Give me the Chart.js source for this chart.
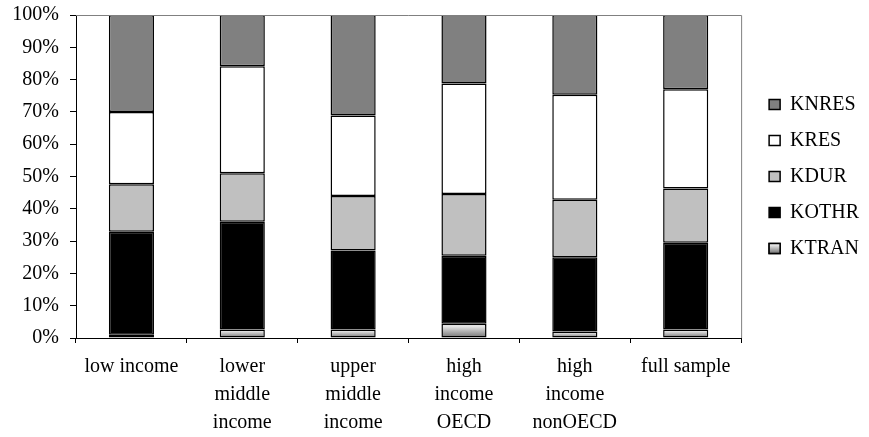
<!DOCTYPE html>
<html>
<head>
<meta charset="utf-8">
<title>Capital composition by income group</title>
<script src="https://cdn.jsdelivr.net/npm/chart.js"></script>
<style>
    html, body {
        margin: 0;
        padding: 0;
        background: #fff;
    }
    #wrap {
        width: 869px;
        height: 437px;
        position: relative;
    }
</style>
</head>
<body>
<div id="wrap"><canvas id="grafico"></canvas></div>
<script>
// categorias do eixo x
const categorias = [
    'low income',
    ['lower', 'middle', 'income'],
    ['upper', 'middle', 'income'],
    ['high', 'income', 'OECD'],
    ['high', 'income', 'nonOECD'],
    'full sample'
];

// participação (%) de cada tipo de capital
const ktran = [1.0, 2.6, 2.6, 4.4, 2.0, 2.6];
const kothr = [31.9, 33.4, 24.5, 21.1, 23.0, 26.9];
const kdur  = [14.7, 15.0, 16.9, 19.1, 17.8, 16.8];
const kres  = [22.4, 33.1, 24.9, 34.2, 32.5, 30.7];
const knres = [30.0, 15.9, 31.1, 21.2, 24.7, 23.0];

const ticksY = [0, 10, 20, 30, 40, 50, 60, 70, 80, 90, 100];

Chart.defaults.font.family = '"Liberation Serif", "Times New Roman", serif';
Chart.defaults.font.size = 20;
Chart.defaults.color = '#000';

function gradiente(ctx, topo, base) {
    const g = ctx.createLinearGradient(0, topo, 0, base);
    g.addColorStop(0, '#ffffff');
    g.addColorStop(1, '#707070');
    return g;
}

// gradiente do KTRAN (claro em cima, cinza embaixo)
function gradienteKtran(ctx) {
    const chart = ctx.chart;
    const y = chart.scales && chart.scales.y;
    if (!y || ctx.dataIndex === undefined) return '#c0c0c0';
    const topo = y.getPixelForValue(ktran[ctx.dataIndex]);
    const base = y.getPixelForValue(0);
    if (!isFinite(topo) || !isFinite(base) || base - topo < 1) return '#c0c0c0';
    return gradiente(chart.ctx, topo, base);
}

// moldura cinza em cima e à direita da área do gráfico
const moldura = {
    id: 'moldura',
    afterDatasetsDraw(chart) {
        const { ctx, chartArea: a } = chart;
        ctx.save();
        ctx.strokeStyle = '#808080';
        ctx.lineWidth = 1;
        ctx.beginPath();
        ctx.moveTo(a.left, a.top + 0.5);
        ctx.lineTo(a.right + 0.5, a.top + 0.5);
        ctx.lineTo(a.right + 0.5, a.bottom);
        ctx.stroke();
        ctx.restore();
    }
};

// caixinha da legenda do KTRAN com o mesmo gradiente das barras
const legendaKtran = {
    id: 'legendaKtran',
    afterDraw(chart) {
        const lg = chart.legend;
        if (!lg || !lg.legendItems) return;
        const i = lg.legendItems.findIndex(it => it.text === 'KTRAN');
        const hb = lg.legendHitBoxes[i];
        if (!hb) return;
        const bw = lg.options.labels.boxWidth;
        const bh = lg.options.labels.boxHeight;
        const x = hb.left;
        const y = hb.top + (hb.height - bh) / 2;
        const ctx = chart.ctx;
        ctx.save();
        ctx.fillStyle = gradiente(ctx, y, y + bh);
        ctx.fillRect(x, y, bw, bh);
        ctx.strokeStyle = '#000';
        ctx.lineWidth = 1.5;
        ctx.strokeRect(x, y, bw, bh);
        ctx.restore();
    }
};

const fundoBranco = {
    id: 'fundoBranco',
    beforeDraw(chart) {
        const ctx = chart.ctx;
        ctx.save();
        ctx.fillStyle = '#fff';
        ctx.fillRect(0, 0, chart.width, chart.height);
        ctx.restore();
    }
};

function serie(label, data, cor) {
    return {
        label: label,
        data: data,
        backgroundColor: cor,
        borderColor: '#000',
        borderWidth: 1.5,
        borderSkipped: false,
        barPercentage: 0.407,
        categoryPercentage: 1.0
    };
}

new Chart(document.getElementById('grafico'), {
    type: 'bar',
    data: {
        labels: categorias,
        datasets: [
            serie('KTRAN', ktran, gradienteKtran),
            serie('KOTHR', kothr, '#000000'),
            serie('KDUR', kdur, '#c0c0c0'),
            serie('KRES', kres, '#ffffff'),
            serie('KNRES', knres, '#808080')
        ]
    },
    options: {
        responsive: true,
        maintainAspectRatio: false,
        animation: false,
        layout: { padding: { top: 15, left: 0, right: 0, bottom: 0 } },
        plugins: {
            tooltip: { enabled: false },
            legend: {
                position: 'right',
                fullSize: false,
                reverse: true,
                labels: {
                    boxWidth: 11,
                    boxHeight: 10,
                    padding: 16,
                    color: '#000',
                    font: { size: 20 }
                }
            }
        },
        scales: {
            x: {
                stacked: true,
                grid: {
                    offset: true,
                    drawOnChartArea: false,
                    drawTicks: true,
                    tickLength: 5,
                    tickColor: '#000'
                },
                border: { display: true, color: '#000', width: 1 },
                ticks: {
                    maxRotation: 0,
                    autoSkip: false,
                    padding: 10,
                    color: '#000',
                    font: { size: 20, lineHeight: 1.4 }
                },
                afterFit(scale) { scale.height = 99; }
            },
            y: {
                stacked: true,
                min: 0,
                max: 100,
                afterBuildTicks(scale) {
                    scale.ticks = ticksY.map(v => ({ value: v }));
                },
                grid: {
                    drawOnChartArea: false,
                    drawTicks: true,
                    tickLength: 6,
                    tickColor: '#000'
                },
                border: { display: true, color: '#000', width: 1 },
                ticks: {
                    padding: 11,
                    color: '#000',
                    font: { size: 20, lineHeight: 1.2 },
                    callback: v => v + '%'
                },
                afterFit(scale) {
                    scale.width = 76;
                    scale.paddingTop = 0;
                    scale.paddingBottom = 0;
                }
            },
            // eixo vazio só para afastar a legenda da área do gráfico
            y2: {
                position: 'right',
                display: true,
                grid: { display: false, drawTicks: false },
                border: { display: false },
                ticks: { display: false },
                afterFit(scale) { scale.width = 12; }
            }
        }
    },
    plugins: [fundoBranco, moldura, legendaKtran]
});
</script>
</body>
</html>
